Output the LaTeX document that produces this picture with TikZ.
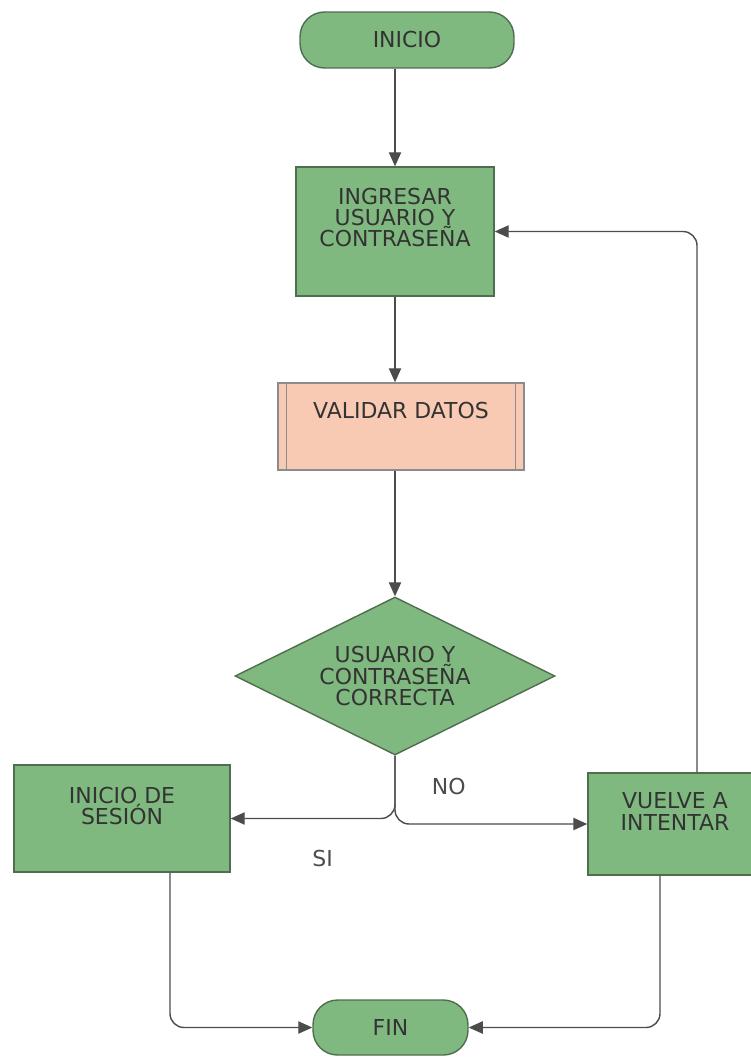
\documentclass[tikz,border=0pt]{standalone}
\usepackage{fontspec}
\setmainfont{DejaVu Sans}
\usetikzlibrary{shapes.geometric,arrows.meta}
\definecolor{verde}{HTML}{80B97F}
\definecolor{bordeverde}{HTML}{4F6E4F}
\definecolor{salmon}{HTML}{F8CAB3}
\definecolor{linea}{HTML}{5A5A5A}
\begin{document}
\begin{tikzpicture}
            [x=0.02cm,y=-0.02cm,font=\fontsize{12.5}{12}\selectfont,text=black!80,
             terminal/.style ={draw=bordeverde,fill=verde,rounded corners=14pt,thick},
             proceso/.style ={draw=bordeverde,fill=verde,thick,align=center},
             subproceso/.style ={draw=black!45,fill=salmon,thick},
             decision/.style ={draw=bordeverde,fill=verde,thick,diamond,aspect=2,align=center,inner sep=0pt},
             flecha/.style ={draw=linea,thick,-{Triangle[width=7pt,length=8pt]},color=black!70}]
            \useasboundingbox (0,0) rectangle (750,1057);
            \node[terminal,minimum width=4.28cm,minimum height=1.12cm] (inicio) at (407,40) {INICIO};
            \node[proceso,minimum width=3.96cm,minimum height=2.58cm,text depth=0.55cm] (ingresar) at (395,231.5) {INGRESAR\\USUARIO Y\\CONTRASEÑA};
            \node[subproceso,minimum width=4.92cm,minimum height=1.74cm,text depth=0.65cm] (validar) at (401,426.5) {VALIDAR DATOS};
            \draw[black!45,thick] ([xshift=0.18cm]validar.north west) -- ([xshift=0.18cm]validar.south west)
                                  ([xshift=-0.18cm]validar.north east) -- ([xshift=-0.18cm]validar.south east);
            \node[decision,minimum width=6.4cm,minimum height=3.16cm] (correcta) at (395,676) {USUARIO Y\\CONTRASEÑA\\CORRECTA};
            \node[proceso,minimum width=4.32cm,minimum height=2.14cm,text depth=0.5cm] (sesion) at (122,818.5) {INICIO DE\\SESIÓN};
            \node[proceso,minimum width=3.48cm,minimum height=2.04cm,text depth=0.5cm] (vuelve) at (675,824) {VUELVE A\\INTENTAR};
            \node[terminal,minimum width=3.1cm,minimum height=1.1cm] (fin) at (390.5,1027.5) {FIN};
            \draw[flecha] (ingresar.north |- inicio.south) -- (ingresar.north);
            \draw[flecha] (ingresar.south) -- (ingresar.south |- validar.north);
            \draw[flecha] (correcta.north |- validar.south) -- (correcta.north);
            \draw[flecha,rounded corners=8pt] (correcta.south) |- node[pos=0.72,below=0.5cm]{SI} (sesion.east);
            \draw[flecha,rounded corners=8pt] (correcta.south) |- node[pos=0.64,above=0.45cm]{NO} (vuelve.west);
            \draw[flecha,rounded corners=8pt] ([xshift=0.44cm]vuelve.north) |- (ingresar.east);
            \draw[flecha,rounded corners=8pt] ([xshift=0.96cm]sesion.south) |- (fin.west);
            \draw[flecha,rounded corners=8pt] ([xshift=-0.3cm]vuelve.south) |- (fin.east);
        \end{tikzpicture}
\end{document}
